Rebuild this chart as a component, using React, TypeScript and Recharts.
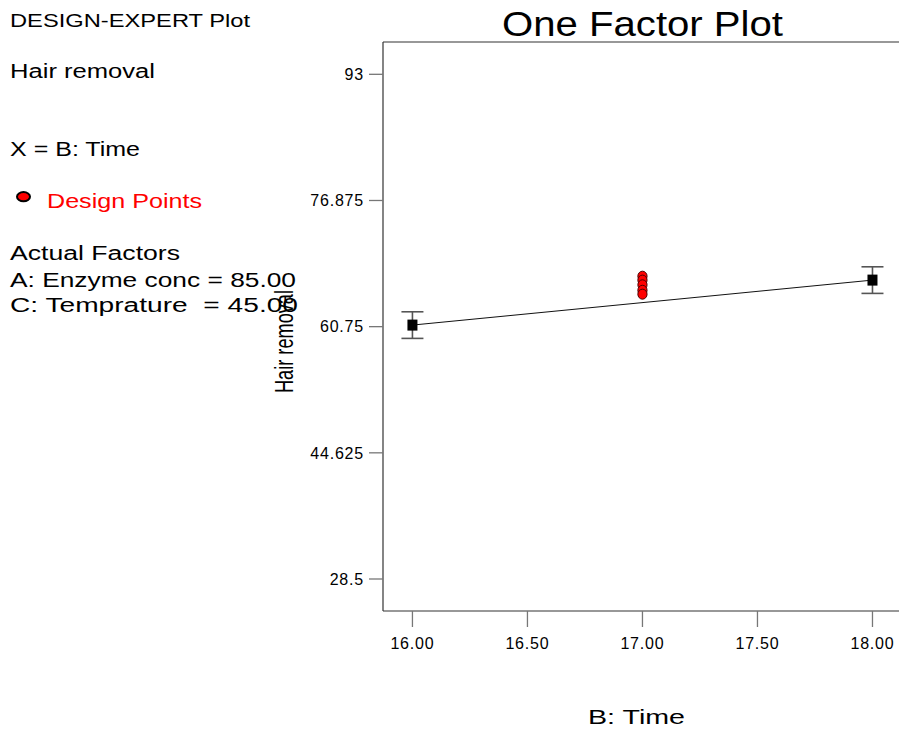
import React from 'react';
import { ScatterChart, Scatter, XAxis, YAxis, ErrorBar, ReferenceLine } from 'recharts';

// Factor levels (B: Time) and predicted response
const levelX = [16, 18];
const predictedY = [60.95, 66.7];
const ciHalfWidth = [1.7, 1.7];

// Design points at the centre level
const designX = [17, 17, 17, 17, 17];
const designY = [67.2, 66.7, 66.1, 65.4, 64.9];

const xTicks = [16, 16.5, 17, 17.5, 18];
const yTicks = [28.5, 44.625, 60.75, 76.875, 93];
const xDomain = [15.872, 18.124];
const yDomain = [24.41, 97.13];

const predicted = levelX.map((x, i) => ({ x, y: predictedY[i], err: ciHalfWidth[i] }));
const design = designX.map((x, i) => ({ x, y: designY[i] }));

const FONT = '"Liberation Sans", Arial, Helvetica, sans-serif';

const Square = (p: any) => {
  if (p.cx == null || p.cy == null) return null;
  return <rect x={p.cx - 5} y={p.cy - 5.5} width={10} height={11} fill="#000" />;
};
const Nothing = () => <g />;
const RedDot = (p: any) => {
  if (p.cx == null || p.cy == null) return null;
  return <ellipse cx={p.cx} cy={p.cy} rx={4.6} ry={5} fill="#ff0000" stroke="#4a0000" strokeWidth={1} />;
};

export default function App() {
  const tickStyle = { fontSize: 16, fill: '#000', fontFamily: FONT, letterSpacing: 0.8 };
  return (
    <div style={{ position: 'absolute', left: 0, top: 0, width: 899, height: 731, overflow: 'hidden', background: '#fff' }}>
      <ScatterChart width={901} height={731} margin={{ top: 42, right: 0, bottom: 0, left: 0 }}>
        <XAxis
          type="number"
          dataKey="x"
          domain={xDomain}
          ticks={xTicks}
          allowDataOverflow
          height={120}
          tickSize={16}
          tickMargin={11}
          tickFormatter={(v: number) => v.toFixed(2)}
          tick={tickStyle}
          tickLine={{ stroke: '#777', strokeWidth: 1.3 }}
          axisLine={{ stroke: '#333', strokeWidth: 1.2 }}
        />
        <YAxis
          type="number"
          dataKey="y"
          domain={yDomain}
          ticks={yTicks}
          allowDataOverflow
          width={383}
          tickSize={14}
          tickMargin={5}
          tick={tickStyle}
          tickLine={{ stroke: '#777', strokeWidth: 1.3 }}
          axisLine={{ stroke: '#333', strokeWidth: 1.2 }}
        />
        <ReferenceLine y={yDomain[1]} stroke="#333" strokeWidth={1.2} ifOverflow="visible" />
        <Scatter data={predicted} shape={Nothing} isAnimationActive={false}>
          <ErrorBar dataKey="err" direction="y" width={11} stroke="#555" strokeWidth={1.6} isAnimationActive={false} />
        </Scatter>
        <Scatter
          data={predicted}
          shape={Square}
          line={{ stroke: '#111', strokeWidth: 1 }}
          lineType="joint"
          isAnimationActive={false}
        />
        <Scatter data={design} shape={RedDot} isAnimationActive={false} />
      </ScatterChart>
      <svg width={899} height={731} style={{ position: 'absolute', left: 0, top: 0, pointerEvents: 'none' }} fontFamily={FONT}>
        <text x={10} y={26.5} fontSize={19} textLength={240} lengthAdjust="spacingAndGlyphs">DESIGN-EXPERT Plot</text>
        <text x={10} y={78} fontSize={20} textLength={145} lengthAdjust="spacingAndGlyphs">Hair removal</text>
        <text x={10} y={156} fontSize={20} textLength={130} lengthAdjust="spacingAndGlyphs">X = B: Time</text>
        <ellipse cx={23.5} cy={196.7} rx={6.5} ry={4.6} fill="#ff0000" stroke="#000" strokeWidth={2} />
        <text x={47} y={208} fontSize={20} fill="#ff0000" textLength={155} lengthAdjust="spacingAndGlyphs">Design Points</text>
        <text x={10} y={260} fontSize={20} textLength={170} lengthAdjust="spacingAndGlyphs">Actual Factors</text>
        <text x={10} y={286.5} fontSize={20} textLength={286} lengthAdjust="spacingAndGlyphs">A: Enzyme conc = 85.00</text>
        <text x={10} y={311.5} fontSize={20} textLength={288} lengthAdjust="spacingAndGlyphs" style={{ whiteSpace: 'pre' }}>C: Temprature  = 45.00</text>
        <text x={502} y={36} fontSize={35} textLength={281} lengthAdjust="spacingAndGlyphs">One Factor Plot</text>
        <text x={588} y={724} fontSize={21} textLength={97} lengthAdjust="spacingAndGlyphs">B: Time</text>
        <text
          x={293}
          y={341.5}
          fontSize={26}
          textAnchor="middle"
          textLength={103}
          lengthAdjust="spacingAndGlyphs"
          transform="rotate(-90 293 341.5)"
        >
          Hair removal
        </text>
      </svg>
    </div>
  );
}
